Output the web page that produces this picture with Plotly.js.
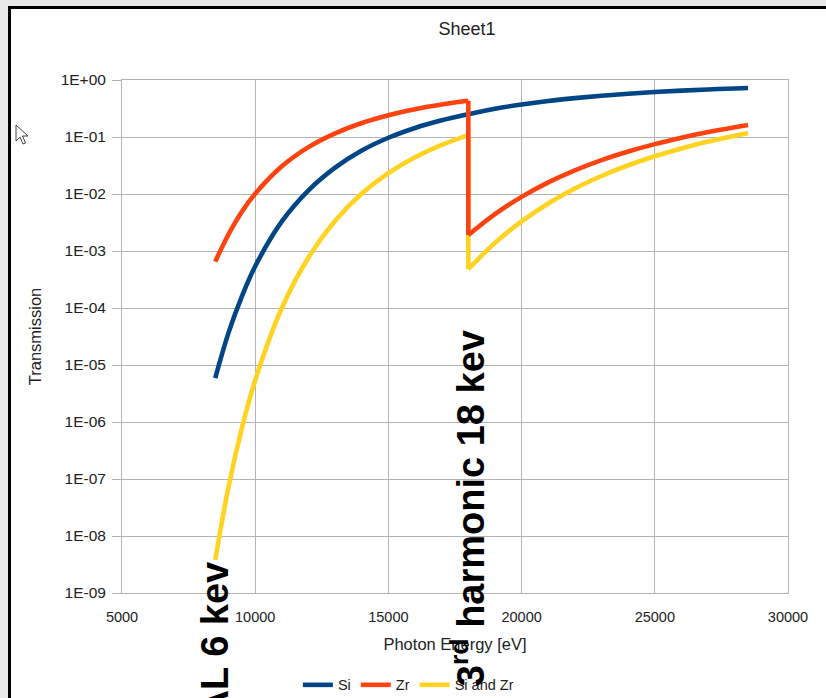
<!DOCTYPE html>
<html>
<head>
<meta charset="utf-8">
<script src="https://cdn.plot.ly/plotly-3.0.1.min.js"></script>
<style>
  html, body { margin: 0; padding: 0; width: 826px; height: 698px; overflow: hidden; background: #e8e8e8; }
  #frame { position: absolute; left: 8px; top: 6px; width: 818px; height: 692px; box-sizing: border-box;
           border-left: 3px solid #000; border-top: 3px solid #000; background: #fff; overflow: hidden; }
  #chart { width: 815px; height: 689px; }
  #cursor { position: absolute; left: 15px; top: 124px; }
</style>
</head>
<body>
<div id="frame"><div id="chart"></div></div>
<svg id="cursor" width="14" height="22" viewBox="0 0 14 22">
  <path d="M1 1 L1 17 L5 13 L8 20 L10.5 19 L7.5 12 L13 12 Z" fill="#fff" stroke="#444" stroke-width="1"/>
</svg>
<script>
// ---- data ----
const chartTitle = "Sheet1";
const xTitle = "Photon Energy [eV]";
const yTitle = "Transmission";

const siEnergy = [8500, 9000, 9500, 10000, 11000, 12000, 13000, 14000, 15000, 16000, 17000, 18000,
                  19000, 20000, 21000, 22000, 23000, 24000, 25000, 26000, 27000, 28000, 28500];
const siValues = [5.9e-6, 3.7e-5, 1.6e-4, 5.4e-4, 3.3e-3, 1.16e-2, 2.9e-2, 5.8e-2, 9.7e-2, 0.144, 0.196, 0.251,
                  0.313, 0.372, 0.429, 0.481, 0.530, 0.574, 0.614, 0.650, 0.683, 0.711, 0.724];

const energyBelowEdge = [8500, 9000, 9500, 10000, 11000, 12000, 13000, 14000, 15000, 16000, 17000, 18000];
const energyAboveEdge = [18000, 19000, 20000, 21000, 22000, 23000, 24000, 25000, 26000, 27000, 28000, 28500];

const zrBelow = [6.5e-4, 1.97e-3, 4.9e-3, 1.01e-2, 3.06e-2, 6.65e-2, 0.116, 0.176, 0.241, 0.307, 0.371, 0.431];
const zrAbove = [1.91e-3, 4.45e-3, 8.9e-3, 1.6e-2, 2.6e-2, 3.92e-2, 5.56e-2, 7.5e-2, 9.7e-2, 0.122, 0.148, 0.162];

const siZrBelow = [3.8e-9, 7.3e-8, 7.8e-7, 5.4e-6, 1.0e-4, 7.7e-4, 3.4e-3, 1.02e-2, 2.33e-2, 4.41e-2, 7.26e-2, 0.108];
const siZrAbove = [4.8e-4, 1.39e-3, 3.3e-3, 6.8e-3, 1.25e-2, 2.07e-2, 3.19e-2, 4.6e-2, 6.3e-2, 8.3e-2, 0.105, 0.1175];

const seriesNames = ["Si", "Zr", "Si and Zr"];
const seriesColors = ["#004586", "#ff420e", "#ffd320"];

const xTickVals = [5000, 10000, 15000, 20000, 25000, 30000];
const xTickText = ["5000", "10000", "15000", "20000", "25000", "30000"];
const yTickVals = [1, 1e-1, 1e-2, 1e-3, 1e-4, 1e-5, 1e-6, 1e-7, 1e-8, 1e-9];
const yTickText = ["1E+00", "1E-01", "1E-02", "1E-03", "1E-04", "1E-05", "1E-06", "1E-07", "1E-08", "1E-09"];

const note1 = "AL 6 kev";
const note2 = "3<sup>rd</sup> harmonic 18 kev";
// --------------------------------------

const LW = 4.6;
const font = "Liberation Sans, Arial, sans-serif";

function edgeTraces(name, color, below, above, rank) {
  const n = energyBelowEdge.length - 1;
  return [
    { x: energyBelowEdge.concat([null]).concat(energyAboveEdge),
      y: below.concat([null]).concat(above),
      mode: "lines", name: name, legendrank: rank, connectgaps: false,
      line: { color: color, width: LW, shape: "spline", smoothing: 1 } },
    { x: [energyBelowEdge[n], energyAboveEdge[0]], y: [below[n], above[0]],
      mode: "lines", showlegend: false, hoverinfo: "skip",
      line: { color: color, width: LW } }
  ];
}

const data = []
  .concat(edgeTraces(seriesNames[2], seriesColors[2], siZrBelow, siZrAbove, 3))
  .concat([{ x: siEnergy, y: siValues, mode: "lines", name: seriesNames[0], legendrank: 1,
             line: { color: seriesColors[0], width: LW, shape: "spline", smoothing: 1 } }])
  .concat(edgeTraces(seriesNames[1], seriesColors[1], zrBelow, zrAbove, 2));

const grid = "#b3b3b3";
const layout = {
  width: 815, height: 689,
  margin: { l: 111, r: 38, t: 71, b: 105, autoexpand: false },
  paper_bgcolor: "#ffffff", plot_bgcolor: "#ffffff",
  font: { family: font, color: "#222" },
  title: { text: chartTitle, font: { size: 18, color: "#222" }, x: 0.5595, xanchor: "center", y: 0.971, yanchor: "middle", xref: "container", yref: "container" },
  showlegend: true,
  legend: { orientation: "h", x: 0.43, xanchor: "center", yref: "container", y: 0.019, yanchor: "middle",
            font: { size: 14.5, color: "#222" }, itemwidth: 30, tracegroupgap: 0 },
  xaxis: {
    range: [5000, 30000], tickvals: xTickVals, ticktext: xTickText, automargin: false,
    showgrid: true, gridcolor: grid, gridwidth: 1,
    showline: true, linecolor: grid, linewidth: 1, mirror: true,
    ticks: "", ticklabelstandoff: 11, zeroline: false,
    tickfont: { size: 14.5, color: "#222" },
    title: { text: xTitle, font: { size: 16.5, color: "#222" }, standoff: 14 }
  },
  yaxis: {
    type: "log", range: [-9, 0], tickvals: yTickVals, ticktext: yTickText, automargin: false,
    showgrid: true, gridcolor: grid, gridwidth: 1,
    showline: true, linecolor: grid, linewidth: 1, mirror: true,
    ticks: "outside", ticklen: 9, tickcolor: grid, ticklabelstandoff: 3, zeroline: false,
    tickfont: { size: 15.5, color: "#222" },
    title: { text: yTitle, font: { size: 16.5, color: "#222" }, standoff: 14 }
  },
  annotations: [
    { text: note2, textangle: -90, xref: "x", yref: "paper", x: energyAboveEdge[0], y: 0.166,
      xanchor: "center", yanchor: "middle", showarrow: false,
      font: { family: font, size: 38, color: "#000", weight: "bold" } },
    { text: note1, textangle: -90, xref: "x", yref: "paper", x: energyBelowEdge[0], y: 0.066,
      xanchor: "center", yanchor: "top", showarrow: false,
      font: { family: font, size: 38, color: "#000", weight: "bold" } }
  ]
};

Plotly.newPlot("chart", data, layout, { displayModeBar: false, staticPlot: true });
</script>
</body>
</html>
